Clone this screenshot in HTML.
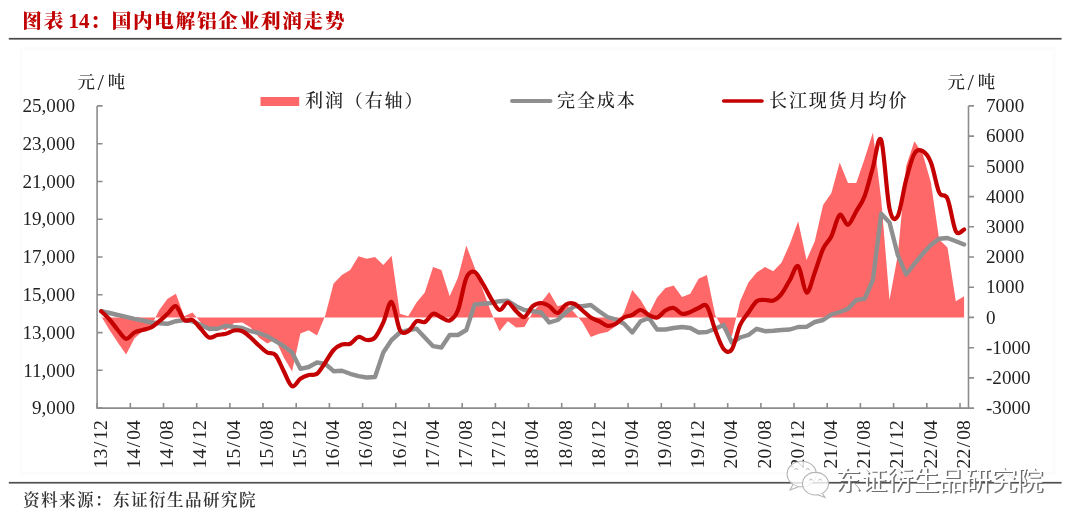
<!DOCTYPE html>
<html lang="zh-CN"><head><meta charset="utf-8"><title>图表 14</title>
<style>html,body{margin:0;padding:0;background:#fff}body{width:1080px;height:528px;position:relative;overflow:hidden}</style>
</head><body>
<svg width="1080" height="528" viewBox="0 0 1080 528" style="position:absolute;left:0;top:0">
<rect x="21" y="48.3" width="1033" height="425" fill="none" stroke="#fcfcfc" stroke-width="3"/>
<rect x="8.8" y="37.9" width="1052.8" height="1.7" fill="#484848"/>
<rect x="8.8" y="481.9" width="1052.8" height="1.7" fill="#505050"/>
<path d="M101.2,317.4 L101.2,316.2 L109.5,330.0 L117.8,342.5 L126.1,354.5 L134.4,338.5 L142.7,331.0 L151.0,326.2 L159.3,310.0 L167.6,298.8 L175.9,293.8 L184.2,316.2 L192.5,312.5 L200.8,322.5 L209.1,331.4 L217.4,327.4 L225.7,330.2 L234.0,323.0 L242.3,322.6 L250.6,327.4 L258.9,337.4 L267.2,343.4 L275.5,339.4 L283.8,357.4 L292.1,371.4 L300.4,333.4 L308.7,330.2 L317.0,335.4 L325.3,315.4 L333.6,283.4 L341.9,275.0 L350.2,270.0 L358.5,256.2 L366.8,258.8 L375.0,257.0 L383.3,265.0 L391.6,255.8 L399.9,313.8 L408.2,316.2 L416.5,302.5 L424.8,292.5 L433.1,267.0 L441.4,270.0 L449.7,296.2 L458.0,277.5 L466.3,245.5 L474.6,267.5 L482.9,290.0 L491.2,312.5 L499.5,331.2 L507.8,321.2 L516.1,327.5 L524.4,327.0 L532.7,312.5 L541.0,302.5 L549.3,292.0 L557.6,306.2 L565.9,303.8 L574.2,312.5 L582.5,322.5 L590.8,337.0 L599.1,333.8 L607.4,332.0 L615.7,326.2 L624.0,312.5 L632.3,290.0 L640.6,300.0 L648.9,313.8 L657.1,297.5 L665.4,288.0 L673.7,285.5 L682.0,297.0 L690.3,293.8 L698.6,278.8 L706.9,275.0 L715.2,315.0 L723.5,330.0 L731.8,336.2 L740.1,301.2 L748.4,282.5 L756.7,272.5 L765.0,267.0 L773.3,271.2 L781.6,262.5 L789.9,243.8 L798.2,221.2 L806.5,260.0 L814.8,241.2 L823.1,205.0 L831.4,193.0 L839.7,162.5 L848.0,183.0 L856.3,183.0 L864.6,158.8 L872.9,132.5 L881.2,199.4 L889.5,300.0 L897.8,255.0 L906.1,166.2 L914.4,141.2 L922.7,153.8 L930.9,182.5 L939.2,239.5 L947.5,247.5 L955.8,301.2 L964.1,296.2 L964.1,317.4 Z" fill="#ff6868"/>
<g stroke="#8c8c8c" stroke-width="1.6" fill="none">
<path d="M97.1,105.9 V408.1 H968.5 V105.9"/>
<path d="M97.1,105.9 h5.5 M97.1,143.7 h5.5 M97.1,181.5 h5.5 M97.1,219.2 h5.5 M97.1,257.0 h5.5 M97.1,294.8 h5.5 M97.1,332.6 h5.5 M97.1,370.3 h5.5 M97.1,408.1 h5.5 M968.5,105.9 h5.5 M968.5,136.1 h5.5 M968.5,166.3 h5.5 M968.5,196.6 h5.5 M968.5,226.8 h5.5 M968.5,257.0 h5.5 M968.5,287.2 h5.5 M968.5,317.4 h5.5 M968.5,347.7 h5.5 M968.5,377.9 h5.5 M968.5,408.1 h5.5 M97.1,408.1 v-5 M130.3,408.1 v-5 M163.5,408.1 v-5 M196.7,408.1 v-5 M229.9,408.1 v-5 M263.0,408.1 v-5 M296.2,408.1 v-5 M329.4,408.1 v-5 M362.6,408.1 v-5 M395.8,408.1 v-5 M429.0,408.1 v-5 M462.2,408.1 v-5 M495.4,408.1 v-5 M528.5,408.1 v-5 M561.7,408.1 v-5 M594.9,408.1 v-5 M628.1,408.1 v-5 M661.3,408.1 v-5 M694.5,408.1 v-5 M727.7,408.1 v-5 M760.9,408.1 v-5 M794.0,408.1 v-5 M827.2,408.1 v-5 M860.4,408.1 v-5 M893.6,408.1 v-5 M926.8,408.1 v-5 M960.0,408.1 v-5 "/>
</g>
<path d="M101.2,311.2 L109.5,313.0 L117.8,315.0 L126.1,316.8 L134.4,318.8 L142.7,320.5 L151.0,322.5 L159.3,323.2 L167.6,323.8 L175.9,321.2 L184.2,320.0 L192.5,321.2 L200.8,325.0 L209.1,328.8 L217.4,328.8 L225.7,325.8 L234.0,327.0 L242.3,328.0 L250.6,331.2 L258.9,333.0 L267.2,336.2 L275.5,341.2 L283.8,346.2 L292.1,352.5 L300.4,368.8 L308.7,367.0 L317.0,362.5 L325.3,363.8 L333.6,371.2 L341.9,370.8 L350.2,373.8 L358.5,376.2 L366.8,377.5 L375.0,377.0 L383.3,352.5 L391.6,340.0 L399.9,332.5 L408.2,330.0 L416.5,328.8 L424.8,337.5 L433.1,346.2 L441.4,347.5 L449.7,335.0 L458.0,335.0 L466.3,330.0 L474.6,304.5 L482.9,303.8 L491.2,303.0 L499.5,301.2 L507.8,300.8 L516.1,306.2 L524.4,310.0 L532.7,311.2 L541.0,312.5 L549.3,322.5 L557.6,320.0 L565.9,312.5 L574.2,306.2 L582.5,306.2 L590.8,305.0 L599.1,311.2 L607.4,317.0 L615.7,319.5 L624.0,323.8 L632.3,332.5 L640.6,321.2 L648.9,318.0 L657.1,329.5 L665.4,329.5 L673.7,328.0 L682.0,327.0 L690.3,328.0 L698.6,332.5 L706.9,332.0 L715.2,328.8 L723.5,325.0 L731.8,342.5 L740.1,337.5 L748.4,335.0 L756.7,328.8 L765.0,331.2 L773.3,330.8 L781.6,330.0 L789.9,329.5 L798.2,327.0 L806.5,326.8 L814.8,322.0 L823.1,320.0 L831.4,314.5 L839.7,312.0 L848.0,308.8 L856.3,300.0 L864.6,298.8 L872.9,280.0 L881.2,213.8 L889.5,222.5 L897.8,255.0 L906.1,274.5 L914.4,263.8 L922.7,253.8 L930.9,245.0 L939.2,238.8 L947.5,238.0 L955.8,241.2 L964.1,244.5" fill="none" stroke="#8f8f8f" stroke-width="4.4" stroke-linejoin="round" stroke-linecap="round"/>
<path d="M101.2,311.2 C102.6,312.6 106.8,316.4 109.5,319.5 C112.3,322.6 115.1,326.8 117.8,330.0 C120.6,333.2 123.4,338.3 126.1,338.8 C128.9,339.2 131.7,334.0 134.4,332.5 C137.2,331.0 140.0,330.8 142.7,330.0 C145.5,329.2 148.3,329.0 151.0,327.5 C153.8,326.0 156.6,323.5 159.3,321.2 C162.1,319.0 164.9,316.2 167.6,313.8 C170.4,311.2 173.2,305.2 175.9,306.2 C178.7,307.3 181.5,317.7 184.2,320.0 C187.0,322.3 189.7,318.5 192.5,320.0 C195.3,321.5 198.0,325.8 200.8,328.8 C203.6,331.7 206.3,336.5 209.1,337.5 C211.9,338.5 214.6,335.6 217.4,335.0 C220.2,334.4 222.9,334.5 225.7,333.8 C228.5,333.0 231.2,330.9 234.0,330.5 C236.8,330.1 239.5,330.1 242.3,331.2 C245.1,332.4 247.8,335.1 250.6,337.5 C253.4,339.9 256.1,343.0 258.9,345.5 C261.7,348.0 264.4,350.9 267.2,352.5 C270.0,354.1 272.7,351.9 275.5,355.0 C278.3,358.1 281.0,366.0 283.8,371.2 C286.5,376.5 289.3,385.0 292.1,386.2 C294.8,387.5 297.6,380.6 300.4,378.8 C303.1,376.9 305.9,375.8 308.7,375.0 C311.4,374.2 314.2,375.8 317.0,373.8 C319.7,371.7 322.5,366.5 325.3,362.5 C328.0,358.5 330.8,353.0 333.6,350.0 C336.3,347.0 339.1,345.5 341.9,344.5 C344.6,343.5 347.4,345.0 350.2,343.8 C352.9,342.5 355.7,337.6 358.5,337.0 C361.2,336.4 364.0,339.9 366.8,340.0 C369.5,340.1 372.3,340.4 375.0,337.5 C377.8,334.6 380.6,328.4 383.3,322.5 C386.1,316.6 388.9,300.8 391.6,302.0 C394.4,303.2 397.2,325.1 399.9,330.0 C402.7,334.9 405.5,332.7 408.2,331.2 C411.0,329.8 413.8,322.8 416.5,321.2 C419.3,319.7 422.1,323.2 424.8,322.0 C427.6,320.8 430.4,314.5 433.1,313.8 C435.9,313.0 438.7,316.4 441.4,317.5 C444.2,318.6 447.0,321.8 449.7,320.5 C452.5,319.2 455.3,317.1 458.0,310.0 C460.8,302.9 463.6,284.3 466.3,278.0 C469.1,271.7 471.8,271.0 474.6,272.0 C477.4,273.0 480.1,279.3 482.9,283.8 C485.7,288.2 488.4,294.4 491.2,298.8 C494.0,303.1 496.7,309.4 499.5,310.0 C502.3,310.6 505.0,302.3 507.8,302.5 C510.6,302.7 513.3,308.8 516.1,311.2 C518.9,313.7 521.6,317.8 524.4,317.0 C527.2,316.2 529.9,308.6 532.7,306.2 C535.5,303.9 538.2,303.0 541.0,303.0 C543.8,303.0 546.5,304.6 549.3,306.2 C552.1,307.9 554.8,313.3 557.6,313.0 C560.3,312.7 563.1,306.0 565.9,304.5 C568.6,303.0 571.4,302.8 574.2,303.8 C576.9,304.8 579.7,308.2 582.5,310.5 C585.2,312.8 588.0,315.7 590.8,317.5 C593.5,319.3 596.3,319.9 599.1,321.2 C601.8,322.6 604.6,325.3 607.4,325.8 C610.1,326.2 612.9,325.1 615.7,323.8 C618.4,322.4 621.2,319.0 624.0,317.5 C626.7,316.0 629.5,316.2 632.3,315.0 C635.0,313.8 637.8,310.0 640.6,310.0 C643.3,310.0 646.1,313.8 648.9,315.0 C651.6,316.2 654.4,318.2 657.1,317.5 C659.9,316.8 662.7,312.1 665.4,310.5 C668.2,308.9 671.0,307.5 673.7,308.0 C676.5,308.5 679.3,313.1 682.0,313.8 C684.8,314.4 687.6,313.0 690.3,312.0 C693.1,311.0 695.9,309.0 698.6,308.0 C701.4,307.0 704.2,302.6 706.9,306.2 C709.7,309.9 712.5,322.9 715.2,330.0 C718.0,337.1 720.8,345.5 723.5,348.8 C726.3,352.0 729.1,353.5 731.8,349.5 C734.6,345.5 737.4,331.2 740.1,325.0 C742.9,318.8 745.6,316.5 748.4,312.5 C751.2,308.5 753.9,303.3 756.7,301.2 C759.5,299.2 762.2,300.1 765.0,300.0 C767.8,299.9 770.5,301.5 773.3,300.5 C776.1,299.5 778.8,297.2 781.6,293.8 C784.4,290.3 787.1,284.6 789.9,280.0 C792.7,275.4 795.4,264.2 798.2,266.2 C801.0,268.3 803.7,291.5 806.5,292.5 C809.3,293.5 812.0,279.8 814.8,272.5 C817.6,265.2 820.3,254.8 823.1,248.8 C825.9,242.7 828.6,241.9 831.4,236.2 C834.2,230.6 836.9,216.9 839.7,215.0 C842.4,213.1 845.2,225.4 848.0,224.8 C850.7,224.2 853.5,216.0 856.3,211.2 C859.0,206.5 861.8,203.5 864.6,196.2 C867.3,189.0 870.1,176.9 872.9,167.5 C875.6,158.1 878.4,133.2 881.2,140.0 C883.9,146.8 886.7,195.8 889.5,208.5 C892.2,221.2 895.0,220.8 897.8,216.0 C900.5,211.2 903.3,190.4 906.1,180.0 C908.8,169.6 911.6,158.5 914.4,153.8 C917.1,149.0 919.9,149.8 922.7,151.2 C925.4,152.7 928.2,155.6 930.9,162.5 C933.7,169.4 936.5,186.5 939.2,192.5 C942.0,198.5 944.8,192.3 947.5,198.8 C950.3,205.2 953.1,226.1 955.8,231.2 C958.6,236.4 962.8,229.8 964.1,229.5" fill="none" stroke="#c40000" stroke-width="4.2" stroke-linejoin="round" stroke-linecap="round"/>
<rect x="260.5" y="97" width="38.7" height="9" fill="#ff6868"/>
<path d="M512,101 H550.5" stroke="#8f8f8f" stroke-width="4" stroke-linecap="round"/>
<path d="M723.7,101 H762" stroke="#c40000" stroke-width="3.6" stroke-linecap="round"/>
<g style="font-family:'Liberation Serif','Noto Serif CJK SC',serif;font-size:19.1px" fill="#222">
<text x="75" y="112.1" text-anchor="end">25,000</text>
<text x="75" y="149.9" text-anchor="end">23,000</text>
<text x="75" y="187.7" text-anchor="end">21,000</text>
<text x="75" y="225.4" text-anchor="end">19,000</text>
<text x="75" y="263.2" text-anchor="end">17,000</text>
<text x="75" y="301.0" text-anchor="end">15,000</text>
<text x="75" y="338.8" text-anchor="end">13,000</text>
<text x="75" y="376.5" text-anchor="end">11,000</text>
<text x="75" y="414.3" text-anchor="end">9,000</text>
<text x="986" y="112.1">7000</text>
<text x="986" y="142.3">6000</text>
<text x="986" y="172.5">5000</text>
<text x="986" y="202.8">4000</text>
<text x="986" y="233.0">3000</text>
<text x="986" y="263.2">2000</text>
<text x="986" y="293.4">1000</text>
<text x="986" y="323.6">0</text>
<text x="986" y="353.9">-1000</text>
<text x="986" y="384.1">-2000</text>
<text x="986" y="414.3">-3000</text>
</g>
<g style="font-family:'Liberation Serif','Noto Serif CJK SC',serif;font-size:19.6px" fill="#222">
<text transform="translate(101.2,468.4) rotate(-90)" x="0" y="5.6">13<tspan dx="1.6">/</tspan><tspan dx="2">12</tspan></text>
<text transform="translate(134.4,468.4) rotate(-90)" x="0" y="5.6">14<tspan dx="1.6">/</tspan><tspan dx="2">04</tspan></text>
<text transform="translate(167.6,468.4) rotate(-90)" x="0" y="5.6">14<tspan dx="1.6">/</tspan><tspan dx="2">08</tspan></text>
<text transform="translate(200.8,468.4) rotate(-90)" x="0" y="5.6">14<tspan dx="1.6">/</tspan><tspan dx="2">12</tspan></text>
<text transform="translate(234.0,468.4) rotate(-90)" x="0" y="5.6">15<tspan dx="1.6">/</tspan><tspan dx="2">04</tspan></text>
<text transform="translate(267.2,468.4) rotate(-90)" x="0" y="5.6">15<tspan dx="1.6">/</tspan><tspan dx="2">08</tspan></text>
<text transform="translate(300.4,468.4) rotate(-90)" x="0" y="5.6">15<tspan dx="1.6">/</tspan><tspan dx="2">12</tspan></text>
<text transform="translate(333.6,468.4) rotate(-90)" x="0" y="5.6">16<tspan dx="1.6">/</tspan><tspan dx="2">04</tspan></text>
<text transform="translate(366.8,468.4) rotate(-90)" x="0" y="5.6">16<tspan dx="1.6">/</tspan><tspan dx="2">08</tspan></text>
<text transform="translate(399.9,468.4) rotate(-90)" x="0" y="5.6">16<tspan dx="1.6">/</tspan><tspan dx="2">12</tspan></text>
<text transform="translate(433.1,468.4) rotate(-90)" x="0" y="5.6">17<tspan dx="1.6">/</tspan><tspan dx="2">04</tspan></text>
<text transform="translate(466.3,468.4) rotate(-90)" x="0" y="5.6">17<tspan dx="1.6">/</tspan><tspan dx="2">08</tspan></text>
<text transform="translate(499.5,468.4) rotate(-90)" x="0" y="5.6">17<tspan dx="1.6">/</tspan><tspan dx="2">12</tspan></text>
<text transform="translate(532.7,468.4) rotate(-90)" x="0" y="5.6">18<tspan dx="1.6">/</tspan><tspan dx="2">04</tspan></text>
<text transform="translate(565.9,468.4) rotate(-90)" x="0" y="5.6">18<tspan dx="1.6">/</tspan><tspan dx="2">08</tspan></text>
<text transform="translate(599.1,468.4) rotate(-90)" x="0" y="5.6">18<tspan dx="1.6">/</tspan><tspan dx="2">12</tspan></text>
<text transform="translate(632.3,468.4) rotate(-90)" x="0" y="5.6">19<tspan dx="1.6">/</tspan><tspan dx="2">04</tspan></text>
<text transform="translate(665.4,468.4) rotate(-90)" x="0" y="5.6">19<tspan dx="1.6">/</tspan><tspan dx="2">08</tspan></text>
<text transform="translate(698.6,468.4) rotate(-90)" x="0" y="5.6">19<tspan dx="1.6">/</tspan><tspan dx="2">12</tspan></text>
<text transform="translate(731.8,468.4) rotate(-90)" x="0" y="5.6">20<tspan dx="1.6">/</tspan><tspan dx="2">04</tspan></text>
<text transform="translate(765.0,468.4) rotate(-90)" x="0" y="5.6">20<tspan dx="1.6">/</tspan><tspan dx="2">08</tspan></text>
<text transform="translate(798.2,468.4) rotate(-90)" x="0" y="5.6">20<tspan dx="1.6">/</tspan><tspan dx="2">12</tspan></text>
<text transform="translate(831.4,468.4) rotate(-90)" x="0" y="5.6">21<tspan dx="1.6">/</tspan><tspan dx="2">04</tspan></text>
<text transform="translate(864.6,468.4) rotate(-90)" x="0" y="5.6">21<tspan dx="1.6">/</tspan><tspan dx="2">08</tspan></text>
<text transform="translate(897.8,468.4) rotate(-90)" x="0" y="5.6">21<tspan dx="1.6">/</tspan><tspan dx="2">12</tspan></text>
<text transform="translate(930.9,468.4) rotate(-90)" x="0" y="5.6">22<tspan dx="1.6">/</tspan><tspan dx="2">04</tspan></text>
<text transform="translate(964.1,468.4) rotate(-90)" x="0" y="5.6">22<tspan dx="1.6">/</tspan><tspan dx="2">08</tspan></text>
</g>
<g style="font-family:'Liberation Serif','Noto Serif CJK SC',serif;font-size:17.4px;font-weight:500" fill="#222">
<text x="77.5" y="88.3">元<tspan dx="2.6" dy="1.6" style="font-size:23px">/</tspan><tspan dx="3.8" dy="-1.6">吨</tspan></text>
<text x="947.5" y="88.3">元<tspan dx="2.6" dy="1.6" style="font-size:23px">/</tspan><tspan dx="3.8" dy="-1.6">吨</tspan></text>
</g>
<g style="font-family:'Liberation Serif','Noto Serif CJK SC',serif;font-size:18px;font-weight:500;letter-spacing:1.9px" fill="#222">
<text x="305" y="107">利润（右轴）</text>
<text x="557" y="107">完全成本</text>
<text x="769" y="107">长江现货月均价</text>
</g>
<text y="28" style="font-family:'Liberation Serif','Noto Serif CJK SC',serif;font-size:19.6px;font-weight:900" fill="#c00000"><tspan x="22.3" style="letter-spacing:1.8px">图表 </tspan><tspan x="68.5" style="font-size:21px">14</tspan><tspan x="90">：</tspan><tspan x="111.7" style="letter-spacing:1.73px">国内电解铝企业利润走势</tspan></text>
<text x="23" y="505.6" style="font-family:'Liberation Serif','Noto Serif CJK SC',serif;font-size:16.6px;font-weight:600;letter-spacing:1.4px" fill="#333">资料来源：东证衍生品研究院</text>
<g style="font-family:'Liberation Sans','Noto Sans CJK SC',sans-serif;font-size:26px">
<text x="836.5" y="491" fill="#6e6e6e">东证衍生品研究院</text>
<text x="835" y="489.6" fill="#fff">东证衍生品研究院</text>
</g>
<g fill="#fff" fill-opacity="0.8" stroke="#b4b4b4" stroke-width="1.1">
<ellipse cx="801.7" cy="474" rx="14.6" ry="12.8"/><path d="M793,484.5 l-3,5.5 l8,-3" />
<ellipse cx="815.5" cy="483.7" rx="13" ry="11.3"/><path d="M822,493 l3,4.5 l-8,-3"/>
</g>
<g fill="none" stroke="#bdbdbd" stroke-width="1"><path d="M794.8,470 a1.5,1.6 0 0 1 3,0"/><path d="M806.3,470 a1.5,1.6 0 0 1 3,0"/><path d="M809.6,480.6 a1.4,1.5 0 0 1 2.8,0"/><path d="M818.8,480.6 a1.4,1.5 0 0 1 2.8,0"/></g>
</svg>
</body></html>
